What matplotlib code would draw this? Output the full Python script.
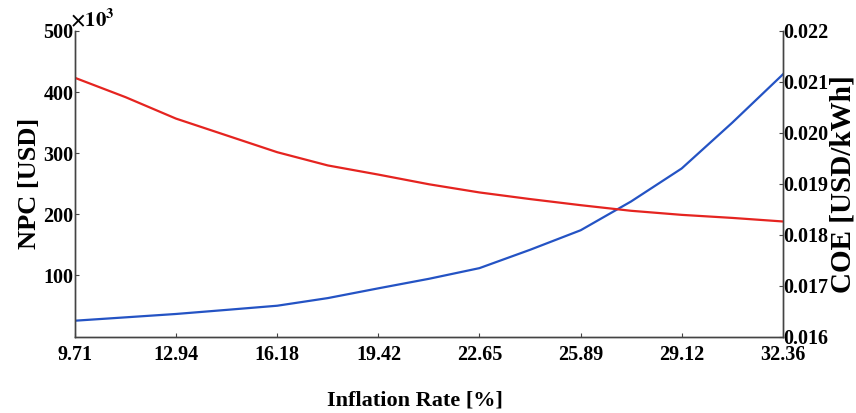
import matplotlib
matplotlib.use("Agg")
from matplotlib import pyplot as plt

# inflation rate [%]
inflation = [9.71, 11.33, 12.94, 14.56, 16.18, 17.80, 19.42, 21.04,
             22.65, 24.27, 25.89, 27.50, 29.12, 30.74, 32.36]
# NPC in 10^3 USD (blue, left axis)
npc = [26, 31.5, 37, 43.7, 50.5, 63, 79, 94.6,
       112, 142, 174, 221, 275, 350, 429]
# COE in USD/kWh (red, right axis)
coe = [0.02108, 0.02070, 0.02028, 0.01995, 0.01962, 0.01936, 0.01918, 0.01899,
       0.01883, 0.01870, 0.01858, 0.01847, 0.01839, 0.01833, 0.01826]

x_ticks = [9.71, 12.94, 16.18, 19.42, 22.65, 25.89, 29.12, 32.36]
x_tick_labels = ["9.71", "12.94", "16.18", "19.42", "22.65", "25.89", "29.12", "32.36"]
npc_ticks = [100, 200, 300, 400, 500]
coe_ticks = [0.016, 0.017, 0.018, 0.019, 0.020, 0.021, 0.022]

plt.rcParams['font.family'] = ['Liberation Serif', 'DejaVu Serif']
plt.rcParams['font.weight'] = 'bold'
plt.rcParams['mathtext.fontset'] = 'stix'

fig = plt.figure(figsize=(8.56, 4.13), dpi=100)
ax = fig.add_axes([0.0876, 0.185, 0.827, 0.74])
ax2 = ax.twinx()

ax.plot(inflation, npc, color='#2453c4', lw=1.6)
ax2.plot(inflation, coe, color='#e52420', lw=1.6)

ax.set_xlim(9.71, 32.36)
ax.set_ylim(0, 500)
ax2.set_ylim(0.016, 0.022)

ax.set_xticks(x_ticks)
ax.set_xticklabels(x_tick_labels)
ax.set_yticks(npc_ticks)
ax.set_yticklabels([str(t) for t in npc_ticks])
ax2.set_yticks(coe_ticks)
ax2.set_yticklabels(["%.3f" % t for t in coe_ticks])

for a in (ax, ax2):
    a.spines['top'].set_visible(False)
    for s in a.spines.values():
        s.set_color('#444444')
        s.set_linewidth(1.0)
    a.tick_params(direction='in', length=3, width=0.8, color='#444444',
                  labelsize=14.5, pad=1)
ax.tick_params(axis='x', pad=6)
ax2.tick_params(axis='y', pad=0)

# x label placed by hand so it sits low like the original
fig.text(0.485, 1 - 401 / 413, "Inflation Rate [%]", fontsize=16,
         fontweight='bold', ha='center', va='center')
ax.set_ylabel("NPC [USD]", fontsize=19, fontweight='bold', labelpad=2)
ax2.set_ylabel("COE [USD/kWh]", fontsize=21, fontweight='bold', labelpad=1)

ax.text(-0.007, 1.0, r"$\times 10^{3}$", transform=ax.transAxes, fontsize=15,
        ha='left', va='bottom')

fig.savefig("out.png", dpi=100)
